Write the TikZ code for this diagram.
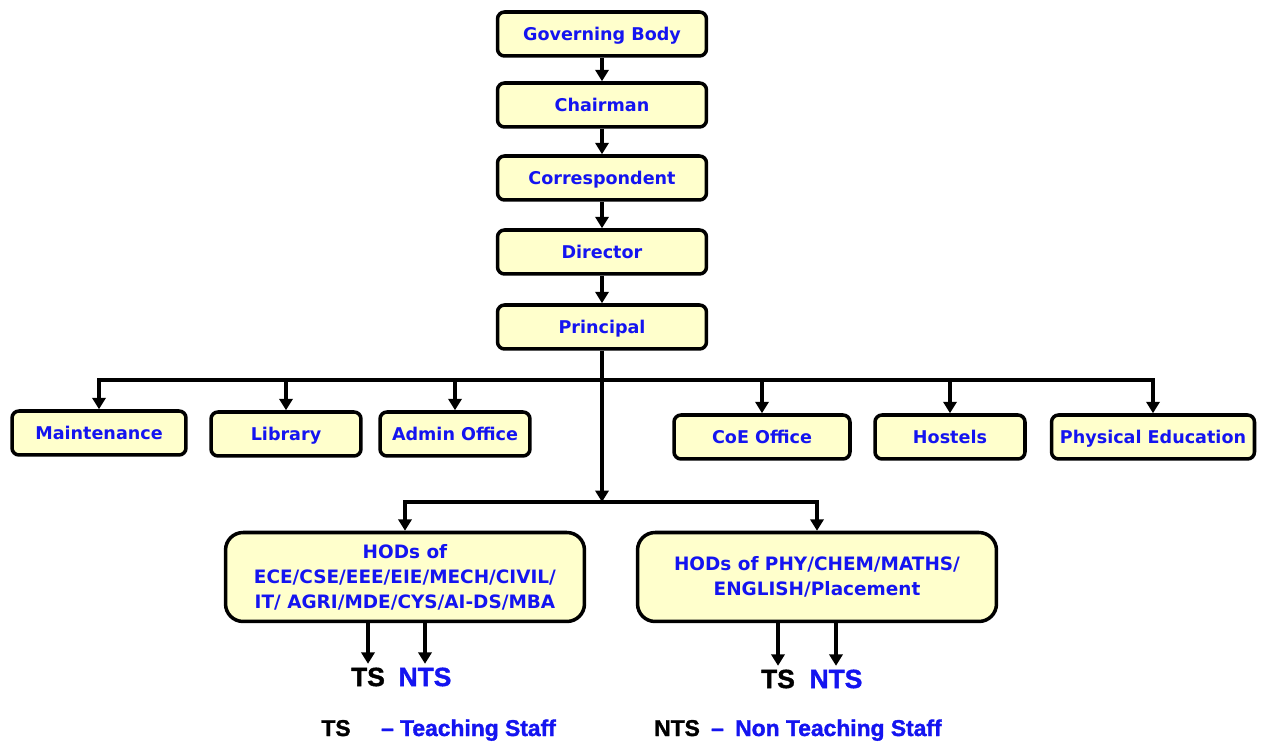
\documentclass[tikz,border=0pt]{standalone}
\usepackage{fontspec}
\setmainfont{DejaVu Sans}
\newfontfamily\legendfont[BoldFeatures={FakeBold=1.5}]{Liberation Sans}
\usetikzlibrary{arrows.meta,positioning}
\definecolor{boxfill}{RGB}{255,255,204}
\definecolor{txtblue}{RGB}{20,20,240}

\begin{document}
\begin{tikzpicture}[x=0.02cm, y=-0.02cm,
   box/.style={draw=black, line width=2pt, fill=boxfill, rounded corners=4pt,
     text=txtblue, font=\bfseries\fontsize{10}{12}\selectfont,
     text height=7.3pt, text depth=0pt, minimum height=0.88cm, inner sep=2pt},
   topbox/.style={box, minimum width=4.18cm},
   hodbox/.style={box, rounded corners=10pt, minimum width=7.18cm, minimum height=1.78cm,
     text height=, text depth=, align=center, font=\bfseries\fontsize{10.5}{14.2}\selectfont},
   link/.style={line width=2pt},
   arr/.style={link, -{Triangle[width=7.5pt,length=6.5pt]}},
   staff/.style={font=\legendfont\bfseries\fontsize{15}{18}\selectfont, inner sep=2pt},
   key/.style={font=\legendfont\bfseries\fontsize{13}{16}\selectfont, inner sep=1pt, anchor=base}]
   \useasboundingbox (0,0) rectangle (1261,742);
   % chain of command
   \node[topbox] (gov)   at (602,34)  {Governing Body};
   \node[topbox] (chair) at (602,105) {Chairman};
   \node[topbox] (corr)  at (602,178) {Correspondent};
   \node[topbox] (dir)   at (602,252) {Director};
   \node[topbox] (prin)  at (602,327) {Principal};
   % sections under the principal
   \node[box, minimum width=3.48cm] (maint)  at (99,433)   {Maintenance};
   \node[box, minimum width=3.0cm]  (lib)    at (286,434)  {Library};
   \node[box, minimum width=3.0cm]  (admin)  at (455,434)  {Admin Office};
   \node[box, minimum width=3.52cm] (coe)    at (762,437)  {CoE Office};
   \node[box, minimum width=3.0cm]  (hostel) at (950,437)  {Hostels};
   \node[box, minimum width=4.06cm] (phys)   at (1153,437) {Physical Education};
   % departments
   \node[hodbox] (hodA) at (405,577) {HODs of\\ECE/CSE/EEE/EIE/MECH/CIVIL/\\IT/ AGRI/MDE/CYS/AI-DS/MBA};
   \node[hodbox] (hodB) at (817,577) {HODs of PHY/CHEM/MATHS/\\ENGLISH/Placement};
   \node[staff] (tsA)  at (368,677) {TS};
   \node[staff, text=txtblue] (ntsA) at (425,677) {NTS};
   \node[staff] (tsB)  at (778,679) {TS};
   \node[staff, text=txtblue] (ntsB) at (836,679) {NTS};
   % legend
   \node[key] (tsKey) at (336,736) {TS};
   \node[key, text=txtblue, anchor=base west] (tsDef) at (379,736) {– Teaching Staff};
   \node[key] (ntsKey) at (677,736) {NTS};
   \node[key, text=txtblue, anchor=base west] (ntsDef) at (709,736) {–\enspace Non Teaching Staff};
   % connectors
   \coordinate (bus) at (602,380);
   \coordinate (hodbus) at (602,502);
   \draw[arr] (gov) -- (chair);
   \draw[arr] (chair) -- (corr);
   \draw[arr] (corr) -- (dir);
   \draw[arr] (dir) -- (prin);
   \draw[arr] (prin.south) -- (hodbus);
   \draw[arr] (bus) -| (maint.north);
   \draw[arr] (bus) -| (phys.north);
   \foreach \n in {lib,admin,coe,hostel}
     \draw[arr] (\n.north |- bus) -- (\n.north);
   \draw[arr] (hodbus) -| (hodA.north);
   \draw[arr] (hodbus) -| (hodB.north);
   \foreach \n in {tsA,ntsA}
     \draw[arr] (hodA.south -| \n) -- (\n.north);
   \foreach \n in {tsB,ntsB}
     \draw[arr] (hodB.south -| \n) -- (\n.north);
\end{tikzpicture}
\end{document}
